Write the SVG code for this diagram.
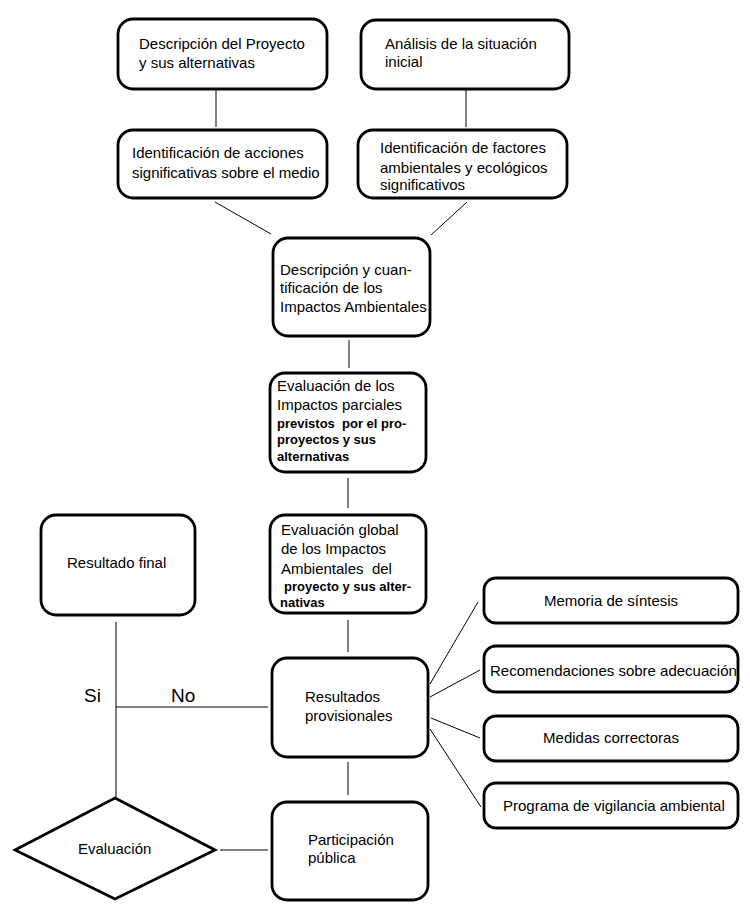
<svg xmlns="http://www.w3.org/2000/svg" width="750" height="916" viewBox="0 0 750 916">
<style>
.box{fill:#fff;stroke:#000;stroke-width:2.8}
.ln{stroke:#000;stroke-width:1;fill:none}
text{font-family:"Liberation Sans",Arial,sans-serif;font-size:15px;fill:#000;white-space:pre}
.b{font-weight:bold;font-size:13px}
.lg{font-size:19px}
</style>
<rect width="750" height="916" fill="#fff"/>
<g id="connectors">
<line class="ln" x1="216" y1="90" x2="216" y2="127"/>
<line class="ln" x1="466" y1="90" x2="466" y2="127"/>
<line class="ln" x1="215" y1="202" x2="271" y2="234"/>
<line class="ln" x1="467" y1="202" x2="431" y2="235"/>
<line class="ln" x1="349" y1="340" x2="349" y2="368"/>
<line class="ln" x1="348" y1="478" x2="348" y2="508"/>
<line class="ln" x1="348" y1="620" x2="348" y2="652"/>
<line class="ln" x1="348" y1="762" x2="348" y2="795"/>
<line class="ln" x1="430" y1="684" x2="478" y2="602"/>
<line class="ln" x1="430" y1="697" x2="480" y2="670"/>
<line class="ln" x1="431" y1="718" x2="480" y2="738"/>
<line class="ln" x1="430" y1="729" x2="481" y2="807"/>
<line class="ln" x1="116" y1="622" x2="116" y2="797"/>
<line class="ln" x1="116" y1="707" x2="268" y2="707"/>
<line class="ln" x1="220" y1="850" x2="268" y2="850"/>
<text class="lg" x="84" y="702">Si</text>
<text class="lg" x="171" y="702">No</text>
</g>
<g id="n1"><rect class="box" x="118" y="19" width="209" height="70" rx="15"/>
<text x="139" y="49">Descripción del Proyecto</text><text x="139" y="68">y sus alternativas</text></g>
<g id="n2"><rect class="box" x="118" y="130" width="209" height="68" rx="15"/>
<text x="132" y="158">Identificación de acciones</text><text x="132" y="178">significativas sobre el medio</text></g>
<g id="n3"><rect class="box" x="361" y="20" width="208" height="69" rx="15"/>
<text x="385" y="49">Análisis de la situación</text><text x="385" y="67">inicial</text></g>
<g id="n4"><rect class="box" x="358" y="130" width="209" height="68" rx="15"/>
<text x="380" y="153">Identificación de factores</text><text x="380" y="173">ambientales y ecológicos</text><text x="380" y="190">significativos</text></g>
<g id="n5"><rect class="box" x="273" y="238" width="157" height="98" rx="15"/>
<text x="280" y="275">Descripción y cuan-</text><text x="280" y="293">tificación de los</text><text x="280" y="312">Impactos Ambientales</text></g>
<g id="n6"><rect class="box" x="270" y="373" width="156" height="99" rx="15"/>
<text x="277" y="391">Evaluación de los</text><text x="277" y="410">Impactos parciales</text>
<text class="b" x="277" y="428">previstos  por el pro-</text><text class="b" x="277" y="444">proyectos y sus</text><text class="b" x="277" y="461">alternativas</text></g>
<g id="n7"><rect class="box" x="270" y="515" width="156" height="98" rx="15"/>
<text x="281" y="535">Evaluación global</text><text x="281" y="554">de los Impactos</text><text x="281" y="574">Ambientales  del</text>
<text class="b" x="284" y="591">proyecto y sus alter-</text><text class="b" x="280" y="607">nativas</text></g>
<g id="n8"><rect class="box" x="272" y="658" width="156" height="99" rx="15"/>
<text x="305" y="702">Resultados</text><text x="305" y="721">provisionales</text></g>
<g id="n9"><rect class="box" x="272" y="802" width="156" height="98" rx="15"/>
<text x="308" y="845">Participación</text><text x="308" y="863">pública</text></g>
<g id="n10"><rect class="box" x="41" y="515" width="154" height="100" rx="15"/>
<text x="67" y="568">Resultado final</text></g>
<g id="n11"><polygon class="box" points="115,798 215,850 115,899 15,850"/>
<text x="78" y="854">Evaluación</text></g>
<g id="n12"><rect class="box" x="484" y="578" width="254" height="45" rx="12"/>
<text x="611" y="606" text-anchor="middle">Memoria de síntesis</text></g>
<g id="n13"><rect class="box" x="484" y="646" width="254" height="46" rx="12"/>
<text x="490" y="676">Recomendaciones sobre adecuación</text></g>
<g id="n14"><rect class="box" x="484" y="716" width="254" height="45" rx="12"/>
<text x="611" y="743" text-anchor="middle">Medidas correctoras</text></g>
<g id="n15"><rect class="box" x="484" y="783" width="254" height="45" rx="12"/>
<text x="503" y="811">Programa de vigilancia ambiental</text></g>
</svg>
